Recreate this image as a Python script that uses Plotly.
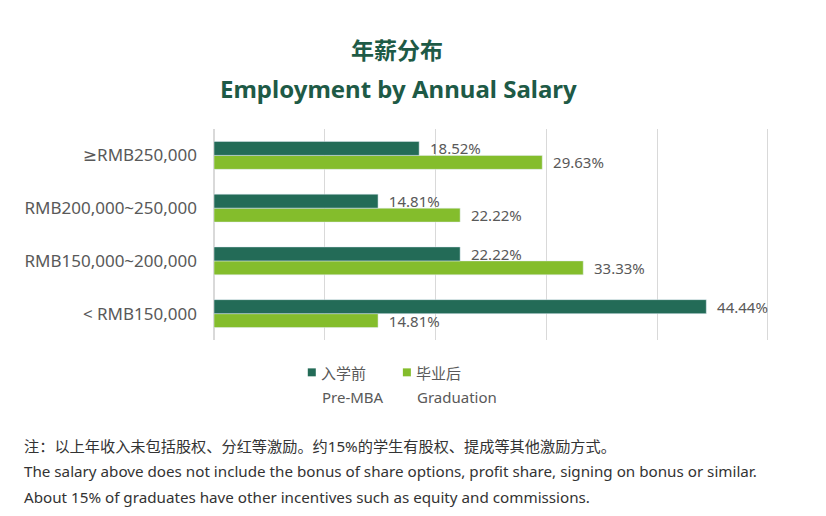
import plotly.graph_objects as go

# salary bands, bottom to top
categories = ["< RMB150,000", "RMB150,000~200,000", "RMB200,000~250,000", "≥RMB250,000"]
pre_mba = [44.44, 22.22, 14.81, 18.52]
graduation = [14.81, 33.33, 22.22, 29.63]

legend_cn = ["入学前", "毕业后"]
legend_en = ["Pre-MBA", "Graduation"]

footnotes = [
    "注：以上年收入未包括股权、分红等激励。约15%的学生有股权、提成等其他激励方式。",
    "The salary above does not include the bonus of share options, profit share, signing on bonus or similar.",
    "About 15% of graduates have other incentives such as equity and commissions.",
]

DARK = "#236b57"
LIGHT = "#84bd2c"
TITLE = "#1e5a46"
TEXT = "#595959"
FONT = "Noto Sans, DejaVu Sans, Noto Sans CJK SC, sans-serif"

# plot area in screen pixels (page has an 8px body margin)
L, R, T, B = 214.3, 768.8, 128.5, 340.5
OFF = 8


def px(sx):
    return (sx - L) / (R - L)


def py(sy):
    return (B - sy) / (B - T)


def labels(values):
    # nbsp pad so the value sits a little off the bar end
    return [f"\u00a0\u00a0{v:.2f}%" for v in values]


fig = go.Figure()
# first trace sits lowest within a group, so graduation goes in first
fig.add_trace(go.Bar(
    y=categories, x=graduation, orientation="h", name=legend_cn[1],
    marker_color=LIGHT,
    text=labels(graduation), textposition="outside",
    constraintext="none", textfont=dict(size=15, color=TEXT), cliponaxis=False,
))
fig.add_trace(go.Bar(
    y=categories, x=pre_mba, orientation="h", name=legend_cn[0],
    marker_color=DARK,
    text=labels(pre_mba), textposition="outside",
    constraintext="none", textfont=dict(size=15, color=TEXT), cliponaxis=False,
))

fig.update_layout(
    width=826, height=516,
    margin=dict(l=L - OFF, r=826 - (R - OFF), t=T - OFF, b=516 - (B - OFF)),
    paper_bgcolor="white", plot_bgcolor="white",
    font=dict(family=FONT, color=TEXT),
    barmode="group", bargap=0.47, bargroupgap=0,
    showlegend=False,
)
fig.update_xaxes(
    range=[0, 50.1], dtick=10, showticklabels=False,
    showgrid=True, gridcolor="#d9d9d9", gridwidth=1,
    zeroline=True, zerolinecolor="#d9d9d9", showline=False,
)
fig.update_yaxes(
    showgrid=False, ticks="", ticklabelstandoff=16,
    tickfont=dict(size=17, color=TEXT),
)

fig.add_annotation(
    text="<b>年薪分布</b>", xref="paper", yref="paper", x=px(397), y=py(49),
    xanchor="center", yanchor="middle", showarrow=False,
    font=dict(size=23, color=TITLE),
)
fig.add_annotation(
    text="<b>Employment by Annual Salary</b>", xref="paper", yref="paper",
    x=px(399), y=py(88), xanchor="center", yanchor="middle", showarrow=False,
    font=dict(size=24, color=TITLE),
)

# hand-drawn legend: swatch + Chinese name, English caption below
for color, cn, en, sx in zip([DARK, LIGHT], legend_cn, legend_en, [308, 403]):
    fig.add_shape(
        type="rect", xref="paper", yref="paper",
        x0=px(sx), x1=px(sx + 8), y0=py(377), y1=py(369),
        fillcolor=color, line_width=0,
    )
    fig.add_annotation(
        text=cn, xref="paper", yref="paper", x=px(sx + 11), y=py(374),
        xanchor="left", yanchor="middle", showarrow=False,
        font=dict(size=15, color=TEXT),
    )
    fig.add_annotation(
        text=en, xref="paper", yref="paper", x=px(sx + 12), y=py(398),
        xanchor="left", yanchor="middle", showarrow=False,
        font=dict(size=15, color=TEXT),
    )

for line, sy in zip(footnotes, [447, 472, 498]):
    fig.add_annotation(
        text=line, xref="paper", yref="paper", x=px(22), y=py(sy),
        xanchor="left", yanchor="middle", showarrow=False,
        font=dict(size=15.2, color="#333333"),
    )

fig.write_html("out.html")
